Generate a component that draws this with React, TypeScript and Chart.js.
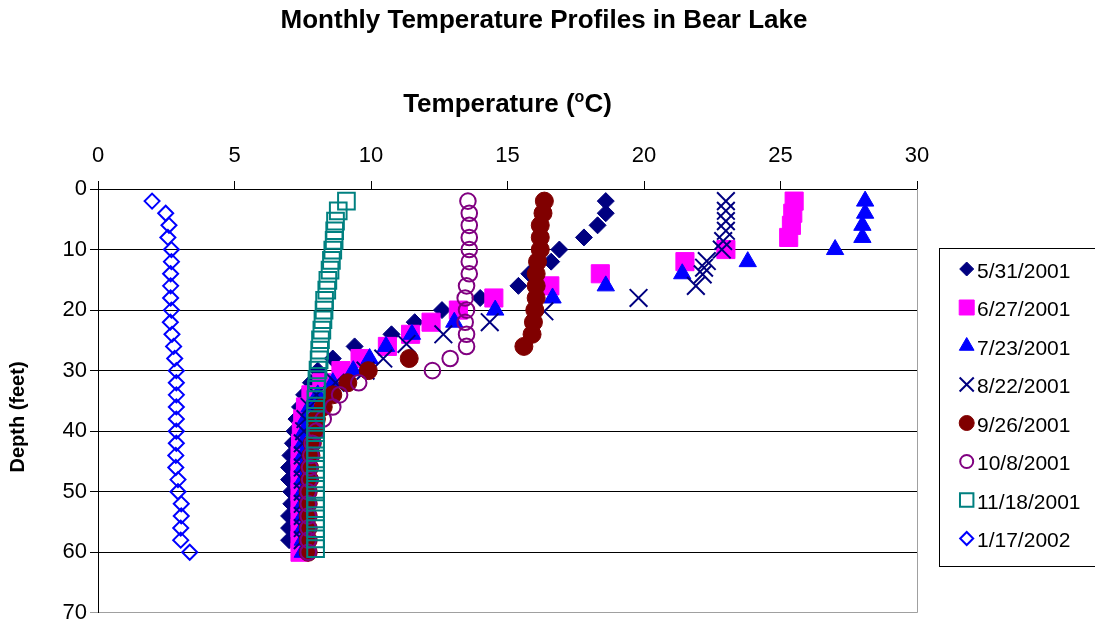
import React, { useEffect, useRef } from 'react';
import { Chart, registerables } from 'chart.js';
import { drawPoint } from 'chart.js/helpers';

Chart.register(...registerables);

// ---------- DATA ----------
const seriesLabels = ['5/31/2001', '6/27/2001', '7/23/2001', '8/22/2001', '9/26/2001', '10/8/2001', '11/18/2001', '1/17/2002'];

const xTickValues = [0, 5, 10, 15, 20, 25, 30];
const yTickValues = [0, 10, 20, 30, 40, 50, 60, 70];

const depths2ft = [2, 4, 6, 8, 10, 12, 14, 16, 18, 20, 22, 24, 26, 28, 30, 32, 34, 36, 38, 40, 42, 44, 46, 48, 50, 52, 54, 56, 58, 60];
const depthsTo58 = [2, 4, 6, 8, 10, 12, 14, 16, 18, 20, 22, 24, 26, 28, 30, 32, 34, 36, 38, 40, 42, 44, 46, 48, 50, 52, 54, 56, 58];
const depthsAug = [2, 3.6, 5.3, 6.9, 8.6, 10, 11.9, 13, 14.1, 16, 18, 20.2, 22, 24, 25.6, 28, 30, 32, 34, 36, 38, 40, 42, 44, 46, 48, 50, 52, 54, 56, 58];
const depthsNov = [2, 3.6, 5.3, 6.9, 8.5, 10.1, 11.8, 13.4, 15.1, 16.7, 18.4, 20, 21.6, 23.3, 24.9, 26.6, 28.2, 29.9, 31.5, 33.1, 34.8, 36.4, 38.1, 39.7, 41.3, 43, 44.6, 46.3, 47.9, 49.6, 51.2, 52.8, 54.5, 56.1, 57.8, 59.4];

const tempMay31 = [18.6, 18.6, 18.3, 17.8, 16.9, 16.6, 15.8, 15.4, 14.0, 12.6, 11.6, 10.75, 9.4, 8.6, 8.05, 7.8, 7.55, 7.4, 7.27, 7.2, 7.14, 7.05, 7.0, 7.0, 7.08, 7.08, 7.0, 7.0, 7.0];
const tempJun27 = [25.5, 25.45, 25.4, 25.3, 23.0, 21.5, 18.4, 16.55, 14.5, 13.2, 12.2, 11.45, 10.6, 9.6, 8.9, 8.2, 7.8, 7.6, 7.5, 7.45, 7.42, 7.4, 7.4, 7.4, 7.4, 7.4, 7.4, 7.4, 7.4, 7.4];
const tempJul23 = [28.1, 28.1, 28.0, 28.0, 27.0, 23.8, 21.4, 18.6, 16.65, 14.55, 13.05, 11.5, 10.55, 9.95, 9.35, 8.6, 8.05, 7.75, 7.6, 7.55, 7.5, 7.5, 7.5, 7.5, 7.5, 7.5, 7.5, 7.5, 7.5, 7.5];
const tempAug22 = [23.0, 23.0, 23.0, 23.0, 22.9, 22.85, 22.3, 22.2, 22.15, 21.9, 19.8, 16.35, 14.35, 12.65, 11.3, 10.45, 9.8, 8.7, 8.0, 7.75, 7.6, 7.55, 7.5, 7.5, 7.5, 7.5, 7.5, 7.5, 7.5, 7.5, 7.5];
const tempSep26 = [16.35, 16.3, 16.2, 16.2, 16.2, 16.1, 16.05, 16.05, 16.05, 16.0, 15.95, 15.9, 15.6, 11.4, 9.9, 9.15, 8.6, 8.25, 8.0, 7.95, 7.85, 7.8, 7.75, 7.75, 7.7, 7.7, 7.7, 7.7, 7.7, 7.7];
const tempOct8 = [13.55, 13.6, 13.6, 13.6, 13.6, 13.6, 13.6, 13.5, 13.45, 13.5, 13.45, 13.5, 13.5, 12.9, 12.25, 9.55, 8.85, 8.6, 8.25, 8.0, 7.85, 7.8, 7.75, 7.75, 7.7, 7.7, 7.7, 7.7, 7.7, 7.7];
const tempNov18 = [9.1, 8.8, 8.7, 8.67, 8.65, 8.6, 8.55, 8.5, 8.42, 8.38, 8.3, 8.28, 8.24, 8.2, 8.15, 8.12, 8.1, 8.06, 8.02, 8.0, 7.98, 7.97, 7.97, 7.97, 7.97, 7.97, 7.97, 7.97, 7.97, 7.97, 7.97, 7.97, 7.97, 7.97, 7.97, 7.97];
const tempJan17 = [1.98, 2.48, 2.6, 2.56, 2.69, 2.69, 2.66, 2.66, 2.66, 2.69, 2.65, 2.71, 2.77, 2.81, 2.87, 2.87, 2.87, 2.87, 2.87, 2.87, 2.87, 2.85, 2.85, 2.93, 2.93, 3.05, 3.05, 3.03, 3.03, 3.36];

const seriesTemps = [tempMay31, tempJun27, tempJul23, tempAug22, tempSep26, tempOct8, tempNov18, tempJan17];
const seriesDepths = [depthsTo58, depths2ft, depths2ft, depthsAug, depths2ft, depths2ft, depthsNov, depths2ft];

// ---------- STYLES ----------
const FONT = '"Liberation Sans", Arial, sans-serif';
const TRANSPARENT = 'rgba(0,0,0,0)';
const styles = [
  { pointStyle: 'rectRot', radius: 8.5, fill: '#000080', stroke: '#000080', bw: 1, lr: 7, lbw: 1 },
  { pointStyle: 'rect', radius: 12.8, fill: '#FF00FF', stroke: '#FF00FF', bw: 1, lr: 10.6, lbw: 1 },
  { pointStyle: 'triangle', radius: 10, fill: '#0000FF', stroke: '#0000FF', bw: 1, lr: 8.5, lbw: 1 },
  { pointStyle: 'crossRot', radius: 12.5, fill: TRANSPARENT, stroke: '#000080', bw: 2, lr: 10, lbw: 2 },
  { pointStyle: 'circle', radius: 9, fill: '#800000', stroke: '#800000', bw: 1, lr: 7.5, lbw: 1 },
  { pointStyle: 'circle', radius: 7.8, fill: TRANSPARENT, stroke: '#800080', bw: 2, lr: 6.5, lbw: 2 },
  { pointStyle: 'rect', radius: 11.8, fill: TRANSPARENT, stroke: '#008080', bw: 2, lr: 9.5, lbw: 2 },
  { pointStyle: 'rectRot', radius: 7.5, fill: TRANSPARENT, stroke: '#0000FF', bw: 2, lr: 6.5, lbw: 2 },
];

const textPlugin = {
  id: 'customText',
  afterDraw(chart: any) {
    const ctx = chart.ctx as CanvasRenderingContext2D;
    const area = chart.chartArea;
    ctx.save();
    // right border of plot area
    ctx.strokeStyle = '#a0a0a0';
    ctx.lineWidth = 1;
    ctx.beginPath();
    ctx.moveTo(Math.round(area.right) + 0.5, area.top);
    ctx.lineTo(Math.round(area.right) + 0.5, area.bottom);
    ctx.stroke();

    ctx.fillStyle = '#000';
    // main title
    ctx.font = `bold 26px ${FONT}`;
    ctx.textAlign = 'center';
    ctx.textBaseline = 'middle';
    ctx.fillText('Monthly Temperature Profiles in Bear Lake', 544, 21);

    // x axis title with superscript
    const big = `bold 26px ${FONT}`;
    const small = `bold 16px ${FONT}`;
    const p1 = 'Temperature (';
    const p2 = 'o';
    const p3 = 'C)';
    ctx.font = big;
    const w1 = ctx.measureText(p1).width;
    const w3 = ctx.measureText(p3).width;
    ctx.font = small;
    const w2 = ctx.measureText(p2).width;
    const total = w1 + w2 + w3;
    const cx = (area.left + area.right) / 2;
    const x0 = cx - total / 2;
    const ty = 112;
    ctx.textAlign = 'left';
    ctx.textBaseline = 'alphabetic';
    ctx.font = big;
    ctx.fillText(p1, x0, ty);
    ctx.font = small;
    ctx.fillText(p2, x0 + w1, ty - 10);
    ctx.font = big;
    ctx.fillText(p3, x0 + w1 + w2, ty);

    // y axis title
    ctx.save();
    ctx.translate(18, 417);
    ctx.rotate(-Math.PI / 2);
    ctx.font = `bold 20px ${FONT}`;
    ctx.textAlign = 'center';
    ctx.textBaseline = 'middle';
    ctx.fillText('Depth (feet)', 0, 0);
    ctx.restore();

    // legend
    ctx.strokeStyle = '#000';
    ctx.lineWidth = 1;
    ctx.strokeRect(939.5, 248.5, 200, 318);
    ctx.font = `21px ${FONT}`;
    ctx.textAlign = 'left';
    ctx.textBaseline = 'middle';
    seriesLabels.forEach((lab, i) => {
      const cy = 272 + 38.5 * i;
      const s = styles[i];
      ctx.fillStyle = s.fill;
      ctx.strokeStyle = s.stroke;
      ctx.lineWidth = s.lbw;
      drawPoint(ctx, { pointStyle: s.pointStyle as any, rotation: 0, radius: s.lr, borderWidth: s.lbw }, 966.7, cy - 3);
      ctx.fillStyle = '#000';
      ctx.fillText(lab, 977, cy);
    });
    ctx.restore();
  },
};

export default function App() {
  const ref = useRef<HTMLCanvasElement | null>(null);
  useEffect(() => {
    if (!ref.current) return;
    const datasets = seriesLabels.map((lab, i) => ({
      label: lab,
      data: seriesTemps[i].map((t, k) => ({ x: t, y: seriesDepths[i][k] })),
      pointStyle: styles[i].pointStyle as any,
      pointRadius: styles[i].radius,
      pointHoverRadius: styles[i].radius,
      backgroundColor: styles[i].fill,
      borderColor: styles[i].stroke,
      borderWidth: styles[i].bw,
      pointBorderWidth: styles[i].bw,
      showLine: false,
      order: seriesLabels.length - i,
    }));
    const chart = new Chart(ref.current, {
      type: 'scatter',
      data: { datasets },
      plugins: [textPlugin],
      options: {
        animation: false,
        responsive: false,
        layout: { padding: { left: 0, top: 0, right: 178, bottom: 16 } },
        plugins: { legend: { display: false }, tooltip: { enabled: false }, title: { display: false } },
        scales: {
          x: {
            type: 'linear',
            position: 'top',
            min: 0,
            max: 30,
            afterFit: (s: any) => { s.height = 189; },
            afterBuildTicks: (s: any) => { s.ticks = xTickValues.map((v) => ({ value: v })); },
            ticks: { color: '#000', font: { family: FONT, size: 22 }, padding: 12, maxRotation: 0 },
            grid: { drawOnChartArea: false, drawTicks: true, tickLength: 8, color: '#000' },
            border: { color: '#000', width: 1 },
          },
          y: {
            type: 'linear',
            reverse: true,
            min: 0,
            max: 70,
            afterFit: (s: any) => { s.width = 98; },
            afterBuildTicks: (s: any) => { s.ticks = yTickValues.map((v) => ({ value: v })); },
            ticks: { color: '#000', font: { family: FONT, size: 22 }, padding: 3 },
            grid: {
              drawTicks: true,
              tickLength: 8,
              color: (c: any) => (c.tick && c.tick.value === 70 ? '#a0a0a0' : '#000'),
              lineWidth: 1,
            },
            border: { color: '#000', width: 1 },
          },
        },
      },
    });
    return () => chart.destroy();
  }, []);
  return (
    <div style={{ position: 'absolute', left: 0, top: 0, width: 1095, height: 629, background: '#fff' }}>
      <canvas ref={ref} width={1095} height={629} />
    </div>
  );
}
